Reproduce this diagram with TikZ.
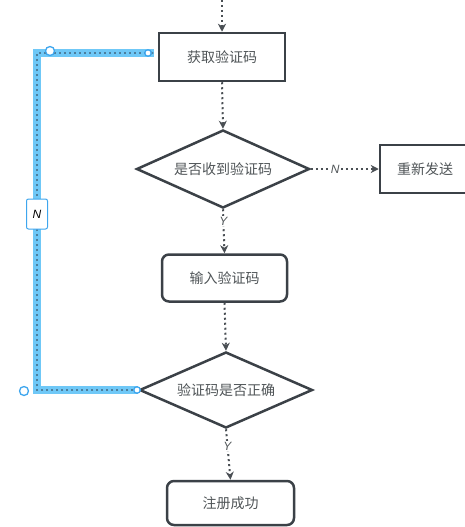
\documentclass[tikz,border=0pt]{standalone}
\usepackage{fontspec}
\setmainfont{Noto Sans CJK SC}
\newfontfamily\latf{Liberation Sans}
\usetikzlibrary{shapes.geometric,arrows.meta}
\definecolor{edge}{HTML}{3B4147}
\definecolor{txt}{HTML}{505558}
\definecolor{dots}{HTML}{4A4F54}
\definecolor{sel}{HTML}{6FC8F7}
\definecolor{seldots}{HTML}{4D7F9E}
\definecolor{selb}{HTML}{3EA6EE}
\tikzset{
  box/.style={draw=edge, line width=2.5pt, fill=white, text=txt, font=\fontsize{14}{16}\selectfont, inner sep=0pt},
  rbox/.style={box, rounded corners=7pt},
  dec/.style={box, shape=diamond, inner sep=0pt, shape aspect=2.25},
  flow/.style={draw=dots, line width=2pt, dash pattern=on 2pt off 3pt, -{Stealth[length=8pt,width=8pt,inset=2.5pt]}},
  lab/.style={fill=white, text=txt, inner sep=1pt, font=\latf\itshape\fontsize{12}{13}\selectfont},
  handle/.style={draw=selb, fill=white, line width=1.3pt},
}
\begin{document}
\begin{tikzpicture}[x=1pt,y=-1pt]
\useasboundingbox (0,0) rectangle (465,527);
\node[box, minimum width=126pt, minimum height=48pt] (b1) at (222,57) {获取验证码};
\node[dec, minimum width=173pt, minimum height=78pt] (d1) at (223,169) {是否收到验证码};
\node[box, minimum width=90pt, minimum height=48pt] (rs) at (425,169) {重新发送};
\node[rbox, minimum width=125pt, minimum height=47pt] (b2) at (224.5,278) {输入验证码};
\node[dec, minimum width=173pt, minimum height=76pt] (d2) at (226,390) {验证码是否正确};
\node[rbox, minimum width=127pt, minimum height=44pt] (b3) at (230.5,503) {注册成功};
\coordinate (top) at (222,0);
\coordinate (c1) at (37,390);
\coordinate (c2) at (37,53);
\coordinate (c3) at (154,53);
% main flow
\draw[flow] (top) -- (b1.north);
\draw[flow] (b1.south) -- (d1.north);
\draw[flow] (d1.east) -- node[lab, pos=0.36] (ln) {N} (rs.west);
\draw[flow] (d1.south) -- node[lab, pos=0.27] (ly1) {Y} (b2.north);
\draw[flow] (b2.south) -- (d2.north);
\draw[flow] (d2.south) -- node[lab, pos=0.33] (ly2) {Y} (b3.north);
% selected loop connector
\draw[sel, line width=8pt, line join=miter] (d2.west) -- (c1) -- (c2) -- (c3);
\draw[flow, draw=seldots, -{Stealth[length=5pt,width=5pt]}] (d2.west) -- (c1) -- (c2) -- (c3);
\node[draw=selb, fill=white, line width=1pt, rounded corners=2pt, minimum width=21pt, minimum height=30pt, inner sep=0pt, font=\latf\itshape\fontsize{12}{13}\selectfont, text=black] (ln2) at (37,214) {N};
\node[handle, circle, minimum size=9pt, inner sep=0pt] (h1) at (50,51) {};
\node[handle, circle, minimum size=6.5pt, inner sep=0pt] (h2) at (148,53) {};
\node[handle, circle, minimum size=9pt, inner sep=0pt] (h3) at (24,391) {};
\node[handle, circle, minimum size=6.5pt, inner sep=0pt] (h4) at (137,390) {};
\end{tikzpicture}
\end{document}
